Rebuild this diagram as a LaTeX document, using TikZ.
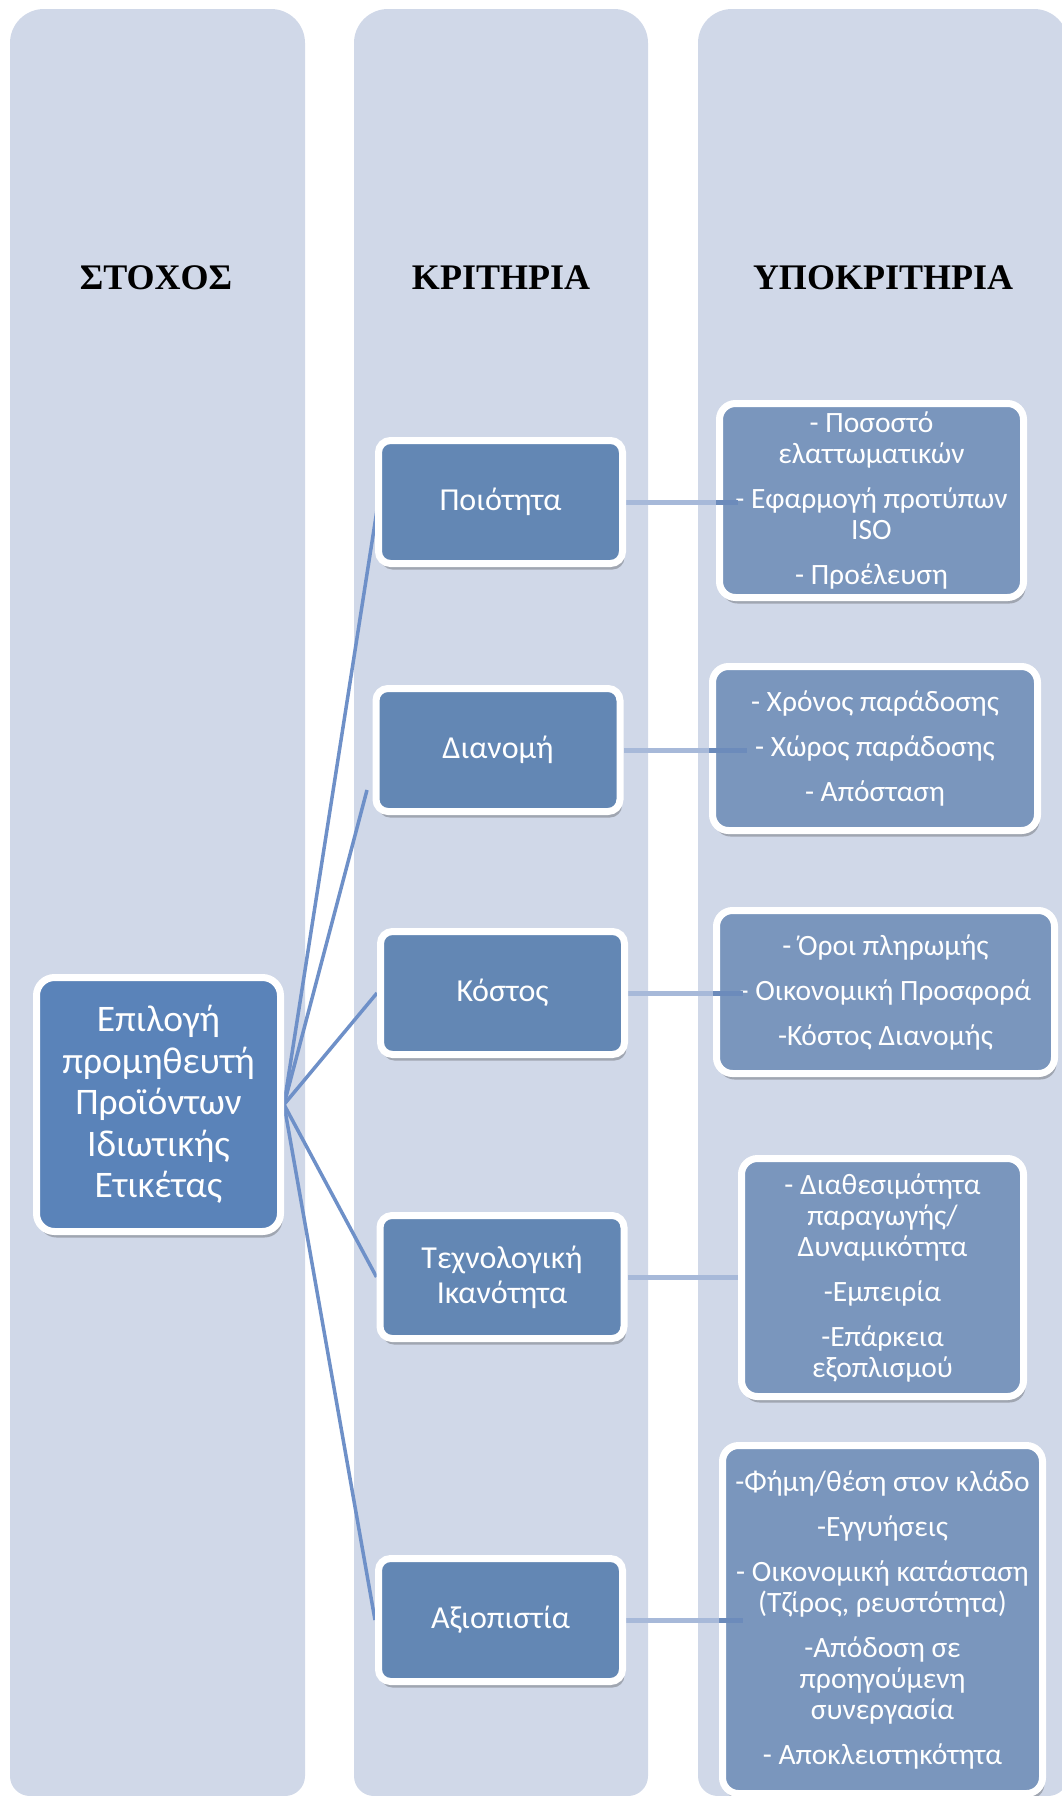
\documentclass[tikz,border=0pt]{standalone}
\usepackage{fontspec}
\setmainfont{Carlito}
\newfontfamily\hdfont{Liberation Serif}
\usetikzlibrary{shadows}
\pgfdeclarelayer{cols}
\pgfdeclarelayer{links}
\pgfdeclarelayer{front}
\pgfsetlayers{cols,links,main,front}
\definecolor{colbg}{HTML}{D0D8E8}
\definecolor{rootfill}{HTML}{5A83B9}
\definecolor{critfill}{HTML}{6387B4}
\definecolor{subfill}{HTML}{7A96BD}
\definecolor{rootline}{HTML}{6E90C8}
\definecolor{lightline}{HTML}{A7B9D9}
\definecolor{stubline}{HTML}{6C8BBB}
\tikzset{
  card/.style={draw=white, line width=7pt, text=white, align=center, inner sep=0pt,
    drop shadow={shadow xshift=2pt, shadow yshift=-6pt, opacity=.3, fill=black!80}},
  rootbox/.style={card, fill=rootfill, rounded corners=18pt, minimum width=244pt, minimum height=254pt,
    font=\fontsize{37.5}{41.5}\selectfont},
  critbox/.style={card, fill=critfill, rounded corners=12pt, minimum width=244pt, minimum height=123pt,
    font=\fontsize{32}{35}\selectfont},
  subbox/.style={card, fill=subfill, rounded corners=16pt,
    font=\fontsize{29.5}{31}\selectfont},
  hdr/.style={font=\hdfont\bfseries\fontsize{36}{40}\selectfont, text=black, inner sep=0pt},
  rootln/.style={draw=rootline, line width=3.5pt},
  critln/.style={draw=lightline, line width=5pt},
  stubln/.style={draw=stubline, line width=5pt},
}
\newcommand{\pgap}{\\[14pt]}
\begin{document}
\begin{tikzpicture}[x=1pt,y=-1pt]
\useasboundingbox (0,0) rectangle (1062,1796);

% columns
\begin{pgfonlayer}{cols}
\fill[colbg] (10,900) [rounded corners=34pt] -- (10,9) -- (305,9) -- (305,900) [rounded corners=20pt] -- (305,1796) -- (10,1796) -- cycle;
\fill[colbg] (354,900) [rounded corners=34pt] -- (354,9) -- (648,9) -- (648,900) [rounded corners=20pt] -- (648,1796) -- (354,1796) -- cycle;
\fill[colbg] (698,900) [rounded corners=34pt] -- (698,9) -- (1068,9) -- (1068,900) [rounded corners=20pt] -- (1068,1796) -- (698,1796) -- cycle;
\end{pgfonlayer}

% headers
\node[hdr] (h1) at (156,278) {ΣΤΟΧΟΣ};
\node[hdr] (h2) at (501,278) {ΚΡΙΤΗΡΙΑ};
\node[hdr] (h3) at (883,278) {ΥΠΟΚΡΙΤΗΡΙΑ};

% goal
\node[rootbox] (root) at (158.5,1104.5) {Επιλογή\\προμηθευτή\\Προϊόντων\\Ιδιωτικής\\Ετικέτας};

% criteria
\node[critbox] (poi) at (500.5,502) {Ποιότητα};
\node[critbox] (dia) at (498,750) {Διανομή};
\node[critbox] (kos) at (502.5,993) {Κόστος};
\node[critbox] (tech) at (502,1277) {Τεχνολογική\\Ικανότητα};
\node[critbox] (axi) at (500.5,1620) {Αξιοπιστία};

% sub-criteria
\node[subbox, minimum width=304pt, minimum height=194pt] (s1) at (871.5,500.5)
  {- Ποσοστό\\ελαττωματικών\pgap - Εφαρμογή προτύπων\\ISO\pgap - Προέλευση};
\node[subbox, minimum width=325pt, minimum height=164pt] (s2) at (875,748.5)
  {- Χρόνος παράδοσης\pgap - Χώρος παράδοσης\pgap - Απόσταση};
\node[subbox, minimum width=338pt, minimum height=163pt] (s3) at (885.5,992)
  {- Όροι πληρωμής\pgap - Οικονομική Προσφορά\pgap -Κόστος Διανομής};
\node[subbox, minimum width=282pt, minimum height=238pt] (s4) at (882.5,1277.5)
  {- Διαθεσιμότητα\\παραγωγής/\\Δυναμικότητα\pgap -Εμπειρία\pgap -Επάρκεια\\εξοπλισμού};
\node[subbox, minimum width=320pt, minimum height=348pt] (s5) at (882.5,1619.5)
  {-Φήμη/θέση στον κλάδο\pgap -Εγγυήσεις\pgap - Οικονομική κατάσταση\\(Τζίρος, ρευστότητα)\pgap -Απόδοση σε\\προηγούμενη\\συνεργασία\pgap - Αποκλειστηκότητα};

% connector end points
\coordinate (pEnd) at (377,510);
\coordinate (dEnd) at (367,790);

\begin{pgfonlayer}{links}
\draw[rootln] (root.east) -- (pEnd);
\draw[rootln] (root.east) -- (dEnd);
\draw[rootln] (root.east) -- (kos.west);
\draw[rootln] (root.east) -- (tech.west);
\draw[rootln] (root.east) -- (axi.west);
\draw[critln] (poi.east) -- (poi.east -| s1.west);
\draw[critln] (dia.east) -- (dia.east -| s2.west);
\draw[critln] (kos.east) -- (kos.east -| s3.west);
\draw[critln] (tech.east) -- (tech.east -| s4.west);
\draw[critln] (axi.east) -- (axi.east -| s5.west);
\end{pgfonlayer}

\begin{pgfonlayer}{front}
\draw[stubln] (poi.east -| s1.west) -- ++(22,0);
\draw[stubln] (dia.east -| s2.west) -- ++(38,0);
\draw[stubln] (kos.east -| s3.west) -- ++(30,0);
\draw[stubln] (axi.east -| s5.west) -- ++(24,0);
\end{pgfonlayer}
\end{tikzpicture}
\end{document}
